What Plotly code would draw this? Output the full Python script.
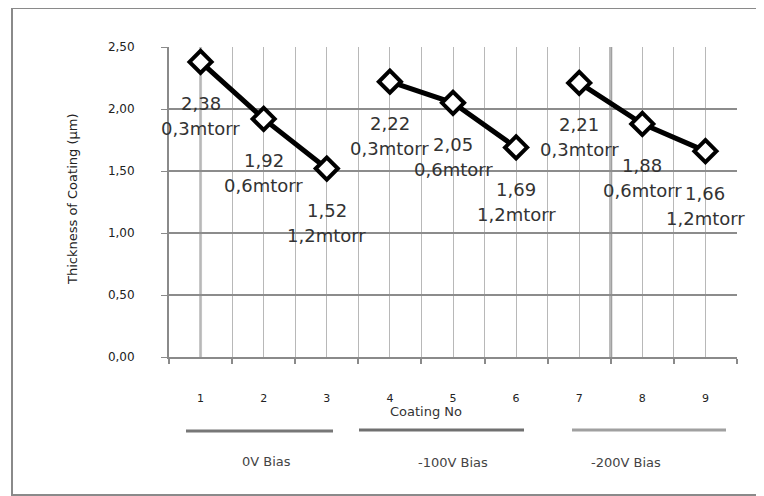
import plotly.graph_objects as go

# ---- data ----
coating_no = [1, 2, 3, 4, 5, 6, 7, 8, 9]
thickness = [2.38, 1.92, 1.52, 2.22, 2.05, 1.69, 2.21, 1.88, 1.66]
pressure = ["0,3mtorr", "0,6mtorr", "1,2mtorr",
            "0,3mtorr", "0,6mtorr", "1,2mtorr",
            "0,3mtorr", "0,6mtorr", "1,2mtorr"]
groups = ["0V Bias", "-100V Bias", "-200V Bias"]
group_members = [[1, 2, 3], [4, 5, 6], [7, 8, 9]]
y_ticks = [0, 0.5, 1.0, 1.5, 2.0, 2.5]

# ---- layout geometry (pixels of the final page) ----
OFF = 8                      # page body margin
W, H = 764 - OFF, 496 - OFF  # figure size
PL, PR, PT, PB = 169, 737, 47, 357   # plot area in page pixels
L, T = PL - OFF, PT - OFF
R, B = W - (PR - OFF), H - (PB - OFF)
PW, PH = PR - PL, PB - PT


def py(pix_y):
    """page pixel y -> paper y"""
    return (PB - pix_y) / PH


def px(pix_x):
    return (pix_x - PL) / PW


fig = go.Figure()

for members in group_members:
    xs = [c for c in coating_no if c in members]
    ys = [thickness[coating_no.index(c)] for c in xs]
    fig.add_trace(go.Scatter(
        x=xs, y=ys, mode="lines+markers",
        line=dict(color="black", width=5),
        marker=dict(symbol="diamond", size=17, color="white",
                    line=dict(color="black", width=4)),
        showlegend=False, hoverinfo="skip"))

annotations = []
lab_font = dict(family="DejaVu Sans", size=18, color="#333333")
for c, v, p in zip(coating_no, thickness, pressure):
    annotations.append(dict(x=c, y=v, xref="x", yref="y",
                            text=f"{v:.2f}".replace(".", ","), yanchor="middle",
                            showarrow=False, yshift=-42, font=lab_font))
    annotations.append(dict(x=c, y=v, xref="x", yref="y", text=p,
                            yanchor="middle",
                            showarrow=False, yshift=-67, font=lab_font))

# x axis title
annotations.append(dict(x=px(426), y=py(411), xref="paper", yref="paper",
                        text="Coating No", showarrow=False, yanchor="middle",
                        font=dict(family="DejaVu Sans", size=13, color="#333")))
# y axis title
annotations.append(dict(x=px(72), y=py(200), xref="paper", yref="paper",
                        text="Thickness of Coating (µm)", textangle=-90,
                        showarrow=False, yanchor="middle", xanchor="center",
                        font=dict(family="DejaVu Sans", size=13, color="#222")))

shapes = []
# group bracket lines and labels
grp_line_colors = ["#777777", "#707070", "#a0a0a0"]
grp_line_pix = [(186, 333, 431), (359, 524, 430), (572, 726, 430)]
grp_label_pix = [(240, 461), (453, 462), (663, 463)]
for g, col, (x0, x1, yy), (lx, ly) in zip(groups, grp_line_colors,
                                          grp_line_pix, grp_label_pix):
    shapes.append(dict(type="line", xref="paper", yref="paper",
                       x0=px(x0), x1=px(x1), y0=py(yy), y1=py(yy),
                       line=dict(color=col, width=3)))
    annotations.append(dict(x=px(lx), y=py(ly), xref="paper", yref="paper",
                            text=g, showarrow=False, yanchor="middle",
                            font=dict(family="DejaVu Sans", size=13,
                                      color="#444")))

# emphasized grid lines seen in the reference
shapes.append(dict(type="line", xref="x", yref="paper", x0=1, x1=1, y0=0, y1=1,
                   line=dict(color="#c4c4c4", width=3), layer="below"))
shapes.append(dict(type="line", xref="x", yref="paper", x0=7.5, x1=7.5,
                   y0=0, y1=1, line=dict(color="#a0a0a0", width=3),
                   layer="below"))

# outer frame
shapes.append(dict(type="rect", xref="paper", yref="paper",
                   x0=px(12), x1=px(775), y0=py(495), y1=py(8),
                   line=dict(color="#8a8a8a", width=2)))

fig.update_layout(
    width=W, height=H,
    margin=dict(l=L, r=R, t=T, b=B, autoexpand=False),
    paper_bgcolor="white", plot_bgcolor="white",
    separators=",.",
    font=dict(family="DejaVu Sans", color="#222"),
    annotations=annotations, shapes=shapes,
    xaxis=dict(range=[0.5, 9.5], tickvals=coating_no,
               ticktext=[str(c) for c in coating_no],
               ticks="", showgrid=True, gridcolor="#b8b8b8", gridwidth=1,
               showline=True, linecolor="#8a8a8a", linewidth=2,
               zeroline=False, ticklabelstandoff=30,
               tickfont=dict(size=11, color="#222"),
               minor=dict(dtick=1, tick0=0.5, showgrid=True,
                          gridcolor="#b8b8b8", gridwidth=1,
                          ticks="outside", ticklen=5, tickcolor="#8a8a8a",
                          tickwidth=1.5)),
    yaxis=dict(range=[0, 2.5], tickvals=y_ticks, tickformat=".2f",
               ticks="outside", ticklen=6, tickcolor="#8a8a8a",
               showgrid=True, gridcolor="#8c8c8c", gridwidth=1.5,
               showline=True, linecolor="#8a8a8a", linewidth=2,
               zeroline=False, ticklabelstandoff=24,
               tickfont=dict(size=12, color="#222")),
)

fig.write_html("out.html")
